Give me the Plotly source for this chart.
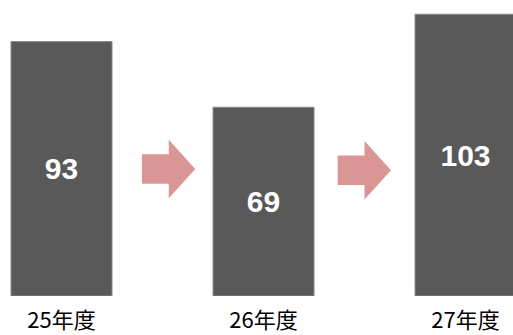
import plotly.graph_objects as go

# Fiscal-year totals
years = ["25年度", "26年度", "27年度"]
values = [93, 69, 103]

BAR_COLOR = "#595959"
ARROW_COLOR = "#DA9694"

x_pos = list(range(len(years)))

fig = go.Figure(
    go.Bar(
        x=x_pos,
        y=values,
        width=0.5,
        marker=dict(color=BAR_COLOR, line=dict(color="#8a8a8a", width=1)),
        text=[str(v) for v in values],
        textposition="inside",
        insidetextanchor="middle",
        textangle=0,
        textfont=dict(family="Liberation Sans, Arial, sans-serif", size=30,
                      color="white", weight="bold"),
        hoverinfo="skip",
    )
)

# Block arrows between consecutive bars (data coordinates)
arrow_start = [0.398, 1.367]   # left edge of each arrow
arrow_mid_y = [46.4, 46.0]
arrow_len, head_len = 0.264, 0.131
shaft_half, head_half = 5.4, 10.7

shapes = []
for x0, yc in zip(arrow_start, arrow_mid_y):
    x1 = x0 + arrow_len
    xh = x1 - head_len
    path = (
        f"M {x0},{yc - shaft_half} L {xh},{yc - shaft_half} "
        f"L {xh},{yc - head_half} L {x1},{yc} L {xh},{yc + head_half} "
        f"L {xh},{yc + shaft_half} L {x0},{yc + shaft_half} Z"
    )
    shapes.append(dict(type="path", path=path, xref="x", yref="y",
                       fillcolor=ARROW_COLOR, line=dict(width=0)))

fig.update_layout(
    width=513,
    height=335,
    margin=dict(l=0, r=0, t=0, b=39),
    paper_bgcolor="white",
    plot_bgcolor="white",
    showlegend=False,
    shapes=shapes,
    xaxis=dict(
        range=[-0.3045, 2.235],
        tickvals=x_pos,
        ticktext=years,
        ticks="outside",
        ticklen=5,
        tickcolor="rgba(0,0,0,0)",
        tickfont=dict(family="Noto Sans CJK JP", size=22, color="#000000"),
        automargin=False,
        showgrid=False,
        zeroline=False,
        showline=False,
        fixedrange=True,
    ),
    yaxis=dict(
        range=[0, 108.2],
        visible=False,
        showgrid=False,
        zeroline=False,
        fixedrange=True,
    ),
)

fig.write_html("out.html")
